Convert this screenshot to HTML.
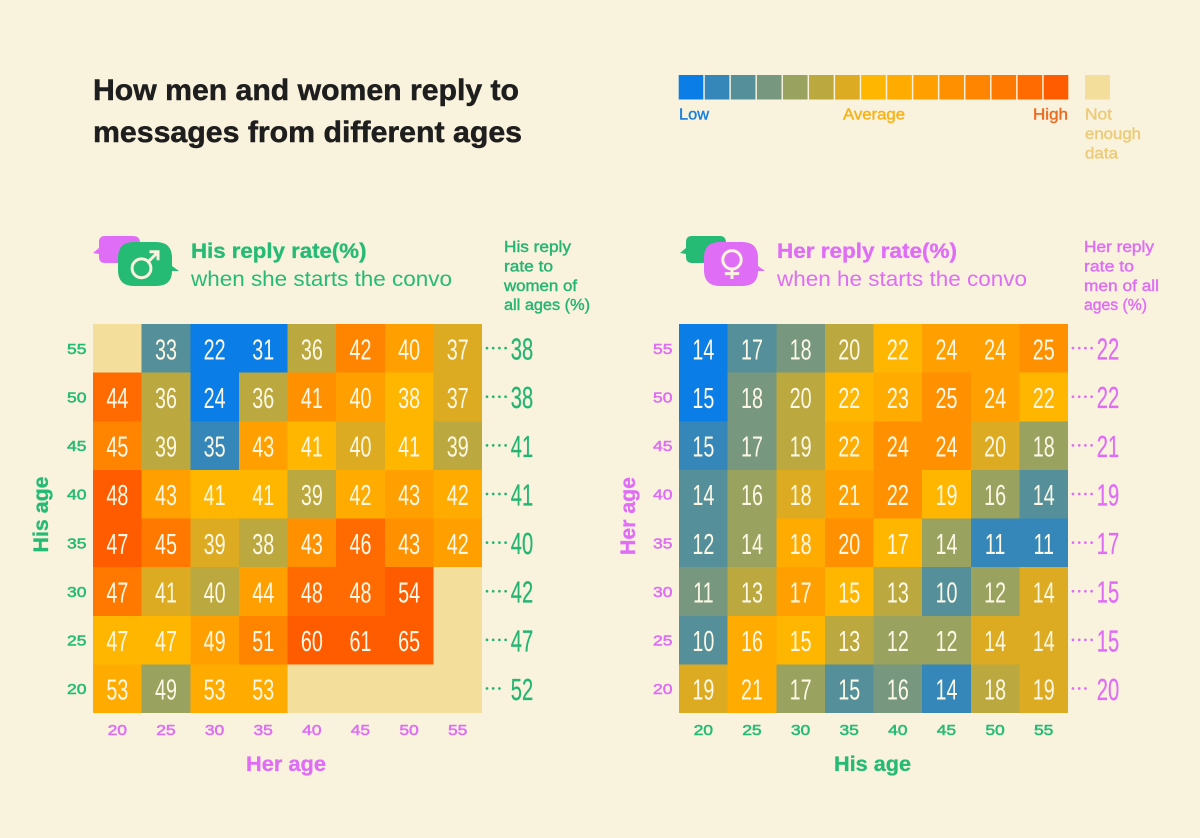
<!DOCTYPE html>
<html lang="en">
<head>
<meta charset="utf-8">
<title>How men and women reply to messages from different ages</title>
<style>
  html, body { margin: 0; padding: 0; background: #f9f2dc; }
  svg { display: block; }
  text { font-family: "Liberation Sans", sans-serif; }
  .b { font-weight: 700; }
  .m { stroke-width: .4px; }
  .t { stroke: #1e1e1e; stroke-width: .5px; }
  .green { fill: #25bb75; }
  .pink { fill: #df6df6; }
  .gb { stroke: #25bb75; stroke-width: .3px; }
  .pb { stroke: #df6df6; stroke-width: .3px; }
  .gm { fill: #25b573; stroke: #25b573; }
  .pm { fill: #df6df6; stroke: #df6df6; }
</style>
</head>
<body>
<svg id="page" xmlns="http://www.w3.org/2000/svg" width="1200" height="838" viewBox="0 0 1200 838">
  <rect width="1200" height="838" fill="#f9f2dc"/>

  <g>
    <text x="93" y="100" font-size="29.5" class="b t" fill="#1e1e1e" textLength="426" lengthAdjust="spacingAndGlyphs">How men and women reply to</text>
    <text x="93" y="142" font-size="29.5" class="b t" fill="#1e1e1e" textLength="429" lengthAdjust="spacingAndGlyphs">messages from different ages</text>
  </g>

  <g id="legend">
    <rect x="1085" y="75" width="25" height="24.5" fill="#f3de9c"/>
    <text x="679" y="119.5" font-size="15.5" fill="#1a80dc" stroke="#1a80dc" class="m" textLength="30" lengthAdjust="spacingAndGlyphs">Low</text>
    <text x="843" y="119.5" font-size="15.5" fill="#f7b217" stroke="#f7b217" class="m" textLength="62" lengthAdjust="spacingAndGlyphs">Average</text>
    <text x="1033" y="119.5" font-size="15.5" fill="#ef6a20" stroke="#ef6a20" class="m" textLength="35" lengthAdjust="spacingAndGlyphs">High</text>
    <g fill="#ebcb77" stroke="#ebcb77" class="m" font-size="15.5">
      <text x="1085" y="119.5" textLength="27" lengthAdjust="spacingAndGlyphs">Not</text>
      <text x="1085" y="139" textLength="56" lengthAdjust="spacingAndGlyphs">enough</text>
      <text x="1085" y="158.5" textLength="33" lengthAdjust="spacingAndGlyphs">data</text>
    </g>
  </g>

  <g>
    <g>
      <path d="M105 236H133Q140 236 140 243V256Q140 263 133 263H105Q99 263 99 257V254L93 253L99 248V242Q99 236 105 236Z" fill="#df6df6"/>
      <path d="M134 242H156Q172 242 172 258V266L179 271L172 271Q172 286 156 286H134Q118 286 118 270V258Q118 242 134 242Z" fill="#25bb75"/>
      <g fill="none" stroke="#f9f2dc" stroke-width="3">
        <circle cx="141.5" cy="268.3" r="9.4"/>
        <path d="M148.5 261.5L157.5 252.5M149.5 251.8H158V260.3"/>
      </g>
    </g>
    <text x="191" y="258" font-size="21" class="b green gb" textLength="175.5" lengthAdjust="spacingAndGlyphs">His reply rate(%)</text>
    <text x="191" y="286" font-size="21" class="green" textLength="261" lengthAdjust="spacingAndGlyphs">when she starts the convo</text>
    <g class="gm m" font-size="15.5">
      <text x="504" y="252" textLength="67" lengthAdjust="spacingAndGlyphs">His reply</text>
      <text x="504" y="271.5" textLength="49" lengthAdjust="spacingAndGlyphs">rate to</text>
      <text x="504" y="291" textLength="73" lengthAdjust="spacingAndGlyphs">women of</text>
      <text x="504" y="310" textLength="86" lengthAdjust="spacingAndGlyphs">all ages (%)</text>
    </g>
  </g>

  <g>
    <g>
      <path d="M692 236H720Q726 236 726 243V256Q726 263 720 263H692Q686 263 686 257V254L680 253L686 248V242Q686 236 692 236Z" fill="#25bb75"/>
      <path d="M720 242H742Q758 242 758 258V266L765 271L758 271Q758 286 742 286H720Q704 286 704 270V258Q704 242 720 242Z" fill="#df6df6"/>
      <g fill="none" stroke="#f9f2dc" stroke-width="3">
        <circle cx="732" cy="259.8" r="9.2"/>
        <path d="M732 269.2V279M724.8 273.6H739.2"/>
      </g>
    </g>
    <text x="777" y="258" font-size="21" class="b pink pb" textLength="180" lengthAdjust="spacingAndGlyphs">Her reply rate(%)</text>
    <text x="777" y="286" font-size="21" class="pink" textLength="250" lengthAdjust="spacingAndGlyphs">when he starts the convo</text>
    <g class="pm m" font-size="15.5">
      <text x="1084" y="252" textLength="70" lengthAdjust="spacingAndGlyphs">Her reply</text>
      <text x="1084" y="271.5" textLength="50" lengthAdjust="spacingAndGlyphs">rate to</text>
      <text x="1084" y="291" textLength="75" lengthAdjust="spacingAndGlyphs">men of all</text>
      <text x="1084" y="310" textLength="63" lengthAdjust="spacingAndGlyphs">ages (%)</text>
    </g>
  </g>

  <text x="286" y="771" font-size="21" text-anchor="middle" class="b pink pb" textLength="80" lengthAdjust="spacingAndGlyphs">Her age</text>
  <text x="872.5" y="771" font-size="21" text-anchor="middle" class="b green gb" textLength="77" lengthAdjust="spacingAndGlyphs">His age</text>
  <text transform="translate(48,514.5) rotate(-90)" font-size="21" text-anchor="middle" class="b green gb" textLength="76" lengthAdjust="spacingAndGlyphs">His age</text>
  <text transform="translate(635,516) rotate(-90)" font-size="21" text-anchor="middle" class="b pink pb" textLength="78" lengthAdjust="spacingAndGlyphs">Her age</text>

  <g id="his-chart"></g>
  <g id="her-chart"></g>
</svg>

<script>
// Age ticks, from the top row down and the left column across.
const yAges = [55, 50, 45, 40, 35, 30, 25, 20];
const xAges = [20, 25, 30, 35, 40, 45, 50, 55];

// His reply rate (%), rows follow yAges, columns follow xAges. null = not enough data.
const hisRow55 = [null, 33, 22, 31, 36, 42, 40, 37];
const hisRow50 = [44, 36, 24, 36, 41, 40, 38, 37];
const hisRow45 = [45, 39, 35, 43, 41, 40, 41, 39];
const hisRow40 = [48, 43, 41, 41, 39, 42, 43, 42];
const hisRow35 = [47, 45, 39, 38, 43, 46, 43, 42];
const hisRow30 = [47, 41, 40, 44, 48, 48, 54, null];
const hisRow25 = [47, 47, 49, 51, 60, 61, 65, null];
const hisRow20 = [53, 49, 53, 53, null, null, null, null];
const hisAverages = [38, 38, 41, 41, 40, 42, 47, 52];

// Her reply rate (%), rows follow yAges, columns follow xAges.
const herRow55 = [14, 17, 18, 20, 22, 24, 24, 25];
const herRow50 = [15, 18, 20, 22, 23, 25, 24, 22];
const herRow45 = [15, 17, 19, 22, 24, 24, 20, 18];
const herRow40 = [14, 16, 18, 21, 22, 19, 16, 14];
const herRow35 = [12, 14, 18, 20, 17, 14, 11, 11];
const herRow30 = [11, 13, 17, 15, 13, 10, 12, 14];
const herRow25 = [10, 16, 15, 13, 12, 12, 14, 14];
const herRow20 = [19, 21, 17, 15, 16, 14, 18, 19];
const herAverages = [22, 22, 21, 19, 17, 15, 15, 20];

// Colour scale: index 7 is the row average, each step is one percentage point.
const colorScale = ['#0a7ee6', '#3487b8', '#55909a', '#77977f', '#99a25f', '#bba83f', '#dcab22',
  '#ffb600', '#ffab00', '#ffa000', '#ff9100', '#ff8500', '#ff7800', '#ff6b00', '#ff5c00'];
const NO_DATA_COLOR = '#f3de9c';

const SVG_NS = 'http://www.w3.org/2000/svg';
const CELL = 48.625;

function colorFor(value, average) {
  const step = Math.max(0, Math.min(colorScale.length - 1, 7 + Math.round(value - average)));
  return colorScale[step];
}

function node(tag, parent) {
  const el = document.createElementNS(SVG_NS, tag);
  parent.appendChild(el);
  return el;
}

function drawChart(group, rows, averages, originX, originY, yColor, xColor, avgColor, prefix) {
  const xScale = i => originX + i * CELL;
  const yScale = i => originY + i * CELL;

  rows.forEach((row, r) => {
    row.forEach((value, c) => {
      const rect = node('rect', group);
      
      
      rect.setAttribute('x', xScale(c));
      rect.setAttribute('y', yScale(r));
      rect.setAttribute('width', CELL);
      rect.setAttribute('height', CELL);
      rect.setAttribute('shape-rendering', 'crispEdges');
      rect.setAttribute('fill', value === null ? NO_DATA_COLOR : colorFor(value, averages[r]));
    });
  });

  rows.forEach((row, r) => {
    row.forEach((value, c) => {
      if (value === null) return;
      const label = node('text', group);
      
      
      label.setAttribute('font-size', '29');
      label.setAttribute('fill', '#fdf8e6');
      label.setAttribute('text-anchor', 'middle');
      label.setAttribute('transform', 'translate(' + (xScale(c) + CELL / 2) + ',' + (yScale(r) + CELL / 2 + 11) + ') scale(.68,1)');
      label.textContent = value;
    });
  });

  yAges.forEach((age, r) => {
    const tick = node('text', group);
    
    
    tick.setAttribute('x', originX - 26);
    tick.setAttribute('y', yScale(r) + CELL / 2 + 5.5);
    tick.setAttribute('font-size', '15');
    tick.setAttribute('stroke', yColor);
    tick.setAttribute('stroke-width', '.5');
    tick.setAttribute('fill', yColor);
    tick.setAttribute('textLength', '19.5');
    tick.setAttribute('lengthAdjust', 'spacingAndGlyphs');
    tick.textContent = age;
  });

  xAges.forEach((age, c) => {
    const tick = node('text', group);
    
    
    tick.setAttribute('x', xScale(c) + CELL / 2 - 9.75);
    tick.setAttribute('y', originY + 8 * CELL + 22);
    tick.setAttribute('font-size', '15');
    tick.setAttribute('stroke', xColor);
    tick.setAttribute('stroke-width', '.5');
    tick.setAttribute('fill', xColor);
    tick.setAttribute('textLength', '19.5');
    tick.setAttribute('lengthAdjust', 'spacingAndGlyphs');
    tick.textContent = age;
  });

  averages.forEach((value, r) => {
    const right = originX + 8 * CELL;
    const cy = yScale(r) + CELL / 2 - 0.2;
    const dotCount = r === averages.length - 1 ? 3 : 4;
    for (let d = 0; d < dotCount; d++) {
      const dot = node('circle', group);
      
      
      dot.setAttribute('cx', right + 5 + d * 6.2);
      dot.setAttribute('cy', cy);
      dot.setAttribute('r', '1.35');
      dot.setAttribute('fill', avgColor);
    }
    const label = node('text', group);
    
    
    label.setAttribute('font-size', '31');
    label.setAttribute('fill', avgColor);
    label.setAttribute('stroke', avgColor);
    label.setAttribute('stroke-width', '.25');
    label.setAttribute('text-anchor', 'middle');
    label.setAttribute('transform', 'translate(' + (right + 40) + ',' + (yScale(r) + CELL / 2 + 11.2) + ') scale(.65,1)');
    label.textContent = value;
  });
}

const legendGroup = document.getElementById('legend');
colorScale.forEach((color, i) => {
  const swatch = node('rect', legendGroup);
  
  
  swatch.setAttribute('x', 678.7 + i * 26.07);
  swatch.setAttribute('y', 75);
  swatch.setAttribute('width', 24.6);
  swatch.setAttribute('height', 24.5);
  swatch.setAttribute('fill', color);
});

const hisRows = [hisRow55, hisRow50, hisRow45, hisRow40, hisRow35, hisRow30, hisRow25, hisRow20];
const herRows = [herRow55, herRow50, herRow45, herRow40, herRow35, herRow30, herRow25, herRow20];
drawChart(document.getElementById('his-chart'), hisRows, hisAverages, 93, 324, '#25bb75', '#df6df6', '#25b573', 'his');
drawChart(document.getElementById('her-chart'), herRows, herAverages, 679, 324, '#df6df6', '#25bb75', '#df6df6', 'her');
</script>
</body>
</html>
